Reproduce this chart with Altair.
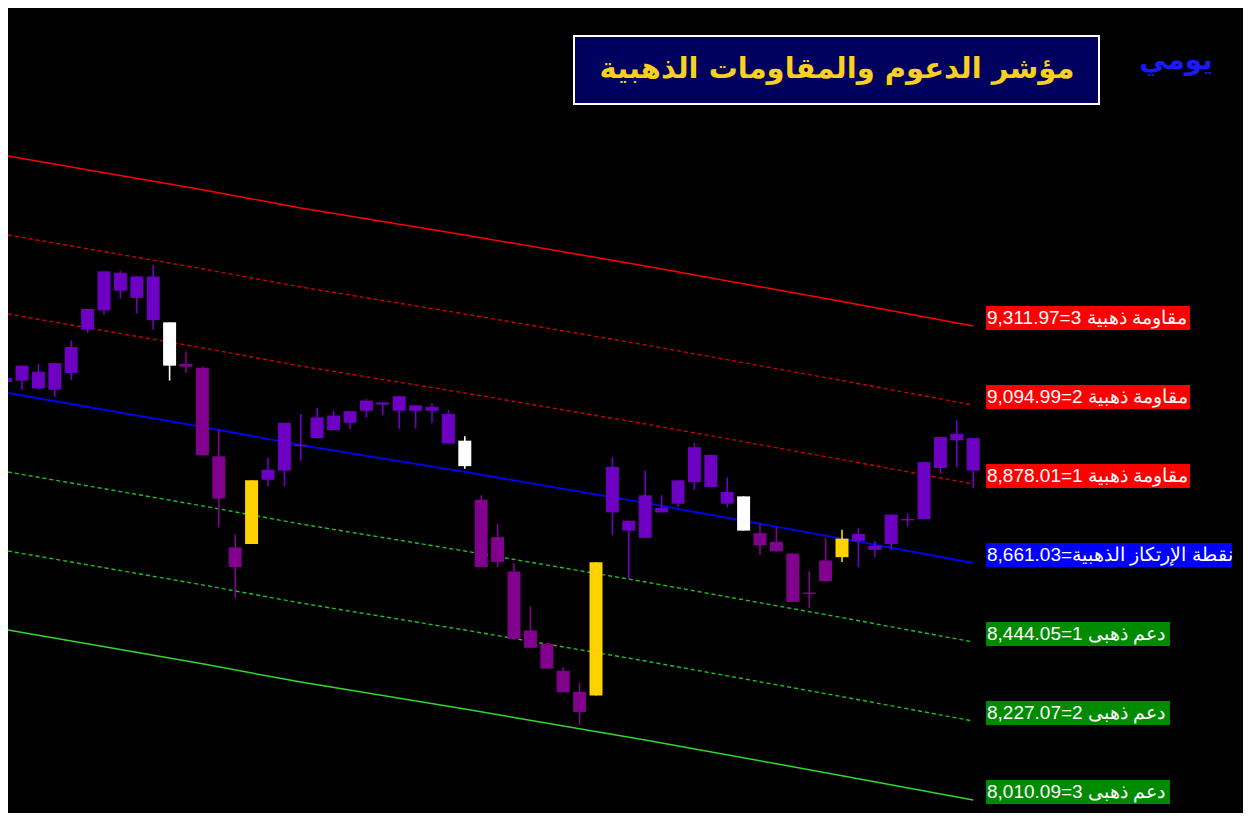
import altair as alt
import pandas as pd

# ---------------- candle data ----------------
idx = list(range(60))
kinds = (["bull"] * 10 + ["white"] + ["bear"] * 4 + ["gold"] + ["bull"] * 12 + ["white"]
         + ["bear"] * 7 + ["gold"] + ["bull"] * 8 + ["white"] + ["bear"] * 5 + ["gold"] + ["bull"] * 8)
opens = [9158, 9162, 9140, 9137, 9183, 9302, 9355, 9409, 9389, 9328,
         9203, 9208, 9197, 8954, 8704, 8713,
         8890, 8915, 8982, 9004, 9026, 9046, 9079, 9096, 9079, 9079, 9079, 8989,
         8927, 8835, 8732, 8638, 8476, 8439, 8365, 8307, 8297,
         8800, 8750, 8730, 8800, 8824, 8883, 8870, 8824,
         8750, 8743, 8719, 8687, 8580, 8668, 8677,
         8721, 8697, 8713, 8778, 8782, 8922, 8998, 8915]
closes = [9169, 9203, 9186, 9210, 9254, 9359, 9462, 9458, 9448, 9448,
          9322, 9200, 8957, 8838, 8650, 8888,
          8917, 9046, 8986, 9061, 9066, 9078, 9107, 9102, 9119, 9094, 9090, 9070,
          8997, 8650, 8664, 8453, 8428, 8371, 8306, 8252, 8663,
          8925, 8777, 8847, 8812, 8888, 8979, 8958, 8856,
          8844, 8710, 8693, 8554, 8576, 8611, 8728,
          8741, 8708, 8794, 8782, 8938, 9007, 9016, 9004]
highs = [9175, 9203, 9208, 9210, 9272, 9359, 9462, 9464, 9448, 9479,
         9322, 9242, 9200, 9027, 8739, 8888,
         8951, 9046, 9070, 9087, 9079, 9078, 9112, 9102, 9119, 9094, 9100, 9082,
         9009, 8847, 8768, 8661, 8542, 8439, 8375, 8331, 8663,
         8951, 8777, 8915, 8847, 8888, 8991, 8958, 8896,
         8844, 8768, 8760, 8687, 8638, 8730, 8752,
         8757, 8722, 8794, 8796, 8938, 9007, 9053, 9004]
lows = [9153, 9137, 9137, 9117, 9164, 9293, 9343, 9387, 9346, 9302,
        9162, 9183, 8957, 8759, 8565, 8713,
        8872, 8872, 8942, 9004, 9026, 9030, 9061, 9067, 9030, 9030, 9046, 8989,
        8920, 8650, 8649, 8453, 8428, 8371, 8306, 8217, 8297,
        8737, 8617, 8730, 8800, 8814, 8862, 8870, 8814,
        8750, 8684, 8693, 8554, 8537, 8611, 8664,
        8649, 8677, 8697, 8762, 8782, 8906, 8924, 8867]

# ---------------- golden pivot / support / resistance lines ----------------
knots = [0.146, 12, 18, 28, 39, 51, 59]
line_r3 = [9779, 9686, 9636, 9562, 9477, 9379, 9311.97]
line_r2 = [9562, 9469, 9419, 9345, 9260, 9162, 9094.99]
line_r1 = [9345, 9252, 9202, 9128, 9043, 8945, 8878.01]
line_pp = [9128, 9035, 8985, 8911, 8826, 8728, 8661.03]
line_s1 = [8911, 8818, 8768, 8694, 8609, 8511, 8444.05]
line_s2 = [8694, 8601, 8551, 8477, 8392, 8294, 8227.07]
line_s3 = [8477, 8384, 8334, 8260, 8175, 8077, 8010.09]

# ---------------- labels ----------------
res_levels = [9311.97, 9094.99, 8878.01]
res_texts = ["9,311.97=3 مقاومة ذهبية", "9,094.99=2 مقاومة ذهبية", "8,878.01=1 مقاومة ذهبية"]
piv_levels = [8661.03]
piv_texts = ["8,661.03=نقطة الإرتكاز الذهبية"]
sup_levels = [8444.05, 8227.07, 8010.09]
sup_texts = ["8,444.05=1 دعم ذهبى", "8,227.07=2 دعم ذهبى", "8,010.09=3 دعم ذهبى"]

title_text = "مؤشر الدعوم والمقاومات الذهبية"
period_text = "يومي"

# ---------------- build ----------------
W, H = 1235, 805
xs = alt.Scale(domain=[0.1463, 75.451], nice=False, zero=False, padding=0)
ys = alt.Scale(domain=[7974.4, 10185.3], nice=False, zero=False, padding=0)

candles = pd.DataFrame({"i": idx, "kind": kinds, "open": opens, "close": closes,
                        "high": highs, "low": lows})
kcolor = alt.Color("kind:N", legend=None,
                   scale=alt.Scale(domain=["bull", "bear", "white", "gold"],
                                   range=["#6E00C4", "#82008E", "#FFFFFF", "#FFD200"]))

wicks = alt.Chart(candles).mark_rule(strokeWidth=1.6, clip=True).encode(
    x=alt.X("i:Q", scale=xs, axis=None),
    y=alt.Y("low:Q", scale=ys, axis=None),
    y2="high:Q",
    color=kcolor,
)
bodies = alt.Chart(candles).mark_bar(size=13, clip=True).encode(
    x=alt.X("i:Q", scale=xs, axis=None),
    y=alt.Y("open:Q", scale=ys, axis=None),
    y2="close:Q",
    color=kcolor,
)

def level_line(vals, color, width, dash=None):
    df = pd.DataFrame({"i": knots, "v": vals})
    kw = dict(color=color, strokeWidth=width, clip=True)
    if dash:
        kw["strokeDash"] = dash
    return alt.Chart(df).mark_line(**kw).encode(
        x=alt.X("i:Q", scale=xs, axis=None),
        y=alt.Y("v:Q", scale=ys, axis=None),
    )

lines = [
    level_line(line_r3, "#FF0000", 1.5),
    level_line(line_r2, "#D00000", 1.4, [4, 3]),
    level_line(line_r1, "#D00000", 1.4, [4, 3]),
    level_line(line_pp, "#0000FF", 1.8),
    level_line(line_s1, "#22C022", 1.4, [4, 3]),
    level_line(line_s2, "#22C022", 1.4, [4, 3]),
    level_line(line_s3, "#33D633", 1.5),
]

FONT = "Liberation Sans"

def label_layer(levels, texts, fill, x2):
    df = pd.DataFrame({"v": levels, "t": texts})
    box = alt.Chart(df).mark_rect(color=fill, height=24, yOffset=-8).encode(
        x=alt.value(978), x2=alt.value(x2),
        y=alt.Y("v:Q", scale=ys, axis=None),
    )
    txt = alt.Chart(df).mark_text(color="white", align="left", baseline="middle",
                                  font=FONT, fontSize=19, dy=-8).encode(
        x=alt.value(979),
        y=alt.Y("v:Q", scale=ys, axis=None),
        text="t:N",
    )
    return [box, txt]

labels = (label_layer(res_levels, res_texts, "#FF0000", 1182)
          + label_layer(piv_levels, piv_texts, "#0000FF", 1224)
          + label_layer(sup_levels, sup_texts, "#008A00", 1162))

tdf = pd.DataFrame({"t": [title_text]})
title_box = alt.Chart(tdf).mark_rect(fill="#00005E", stroke="white", strokeWidth=2).encode(
    x=alt.value(566), x2=alt.value(1091), y=alt.value(28), y2=alt.value(96))
title_txt = alt.Chart(tdf).mark_text(color="#F8D020", fontSize=29, fontWeight="bold",
                                     font="DejaVu Sans", align="center",
                                     baseline="middle").encode(
    x=alt.value(829), y=alt.value(61), text="t:N")
pdf = pd.DataFrame({"t": [period_text]})
period_txt = alt.Chart(pdf).mark_text(color="#1A1AFF", fontSize=28, fontWeight="bold",
                                      font="DejaVu Sans", align="center",
                                      baseline="middle").encode(
    x=alt.value(1168), y=alt.value(53), text="t:N")

chart = alt.layer(*lines, wicks, bodies, *labels, title_box, title_txt, period_txt).properties(
    width=W, height=H, background="black", padding=0,
    autosize=alt.AutoSizeParams(type="none"),
).configure_view(stroke=None)

chart.save("out.html", embed_options={"renderer": "svg", "actions": False})
